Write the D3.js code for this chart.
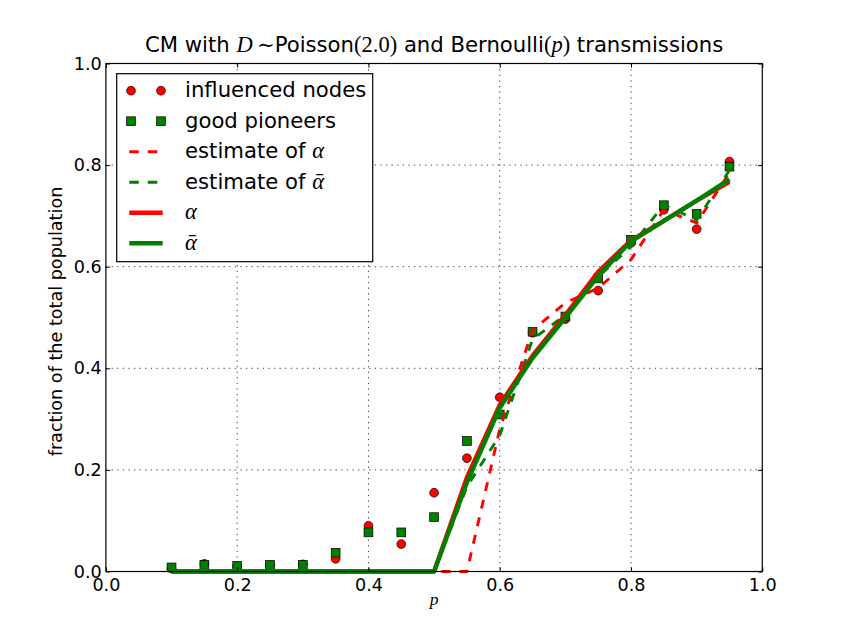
<!DOCTYPE html>
<html>
<head>
<meta charset="utf-8">
<script src="https://cdn.jsdelivr.net/npm/d3@7"></script>
<style>
  html, body { margin: 0; padding: 0; background: #fff; }
  svg { display: block; }
  .tick text { font-family: "DejaVu Sans", sans-serif; }
</style>
</head>
<body>
<svg id="chart" width="847" height="635"></svg>
<script>
// transmission probability p (x positions of every series)
const pValues = [0.1, 0.15, 0.2, 0.25, 0.3, 0.35, 0.4, 0.45, 0.5, 0.55,
                 0.6, 0.65, 0.7, 0.75, 0.8, 0.85, 0.9, 0.95];

// simulated fractions (markers)
const influencedNodes = [0.006, 0.015, 0.01, 0.012, 0.014, 0.025, 0.09, 0.054, 0.155, 0.223,
                         0.343, 0.47, 0.497, 0.553, 0.647, 0.712, 0.674, 0.807];
const goodPioneers    = [0.008, 0.013, 0.011, 0.013, 0.013, 0.037, 0.077, 0.077, 0.107, 0.257,
                         0.309, 0.472, 0.502, 0.577, 0.653, 0.721, 0.704, 0.797];

// estimates (dashed)
const estimateAlpha    = [0, 0, 0, 0, 0, 0, 0, 0, 0, 0,
                          0.28, 0.475, 0.529, 0.558, 0.614, 0.712, 0.686, 0.785];
const estimateAlphaBar = [0, 0, 0, 0, 0, 0, 0, 0, 0, 0.167,
                          0.268, 0.457, 0.505, 0.58, 0.64, 0.722, 0.692, 0.79];

// theoretical values (solid)
const alpha    = [0, 0, 0, 0, 0, 0, 0, 0, 0, 0.185,
                  0.328, 0.425, 0.505, 0.59, 0.652, 0.69, 0.73, 0.767];
const alphaBar = [0, 0, 0, 0, 0, 0, 0, 0, 0, 0.175,
                  0.322, 0.42, 0.5, 0.582, 0.65, 0.69, 0.73, 0.772];

const xTicks = [0.0, 0.2, 0.4, 0.6, 0.8, 1.0];
const yTicks = [0.0, 0.2, 0.4, 0.6, 0.8, 1.0];

const RED = "#ff0000", GREEN = "#008000";
const SANS = "'DejaVu Sans', sans-serif";
const SERIF = "'Liberation Serif', 'DejaVu Serif', serif";

const svg = d3.select("#chart");

// axes box (matplotlib default subplot params on a 847x635 canvas)
const axLeft = 105.9, axRight = 762.3, axTop = 63.5, axBottom = 571.5;

const x = d3.scaleLinear().domain([0, 1]).range([axLeft, axRight]);
const y = d3.scaleLinear().domain([0, 1]).range([axBottom, axTop]);

svg.append("rect").attr("width", 847).attr("height", 635).attr("fill", "#fff");

// dotted grid
const grid = svg.append("g").attr("class", "grid")
  .attr("stroke", "#000").attr("stroke-width", 0.7)
  .attr("stroke-dasharray", "1.4,4.2");
grid.selectAll("line.vx")
  .data(xTicks.slice(1, -1))
  .join("line")
  .attr("x1", d => x(d)).attr("x2", d => x(d))
  .attr("y1", axTop).attr("y2", axBottom);
grid.selectAll("line.hy")
  .data(yTicks.slice(1, -1))
  .join("line")
  .attr("x1", axLeft).attr("x2", axRight)
  .attr("y1", d => y(d)).attr("y2", d => y(d));

// series
const line = d3.line().x((d, i) => x(pValues[i])).y(d => y(d));
const plot = svg.append("g").attr("class", "plot");

plot.selectAll("circle.infl")
  .data(influencedNodes)
  .join("circle")
  .attr("cx", (d, i) => x(pValues[i]))
  .attr("cy", d => y(d))
  .attr("r", 4.4)
  .attr("fill", RED).attr("stroke", "#000").attr("stroke-width", 0.7);

const sq = 8.8;
plot.selectAll("rect.pion")
  .data(goodPioneers)
  .join("rect")
  .attr("x", (d, i) => x(pValues[i]) - sq / 2)
  .attr("y", d => y(d) - sq / 2)
  .attr("width", sq).attr("height", sq)
  .attr("fill", GREEN).attr("stroke", "#000").attr("stroke-width", 0.7);

const series = [
  { data: estimateAlpha,    color: RED,   width: 2.9, dash: "9,9" },
  { data: estimateAlphaBar, color: GREEN, width: 2.9, dash: "9,9" },
  { data: alpha,            color: RED,   width: 4.4, dash: null },
  { data: alphaBar,         color: GREEN, width: 4.4, dash: null }
];
series.forEach(s => {
  plot.append("path")
    .datum(s.data)
    .attr("d", line)
    .attr("fill", "none")
    .attr("stroke", s.color)
    .attr("stroke-width", s.width)
    .attr("stroke-dasharray", s.dash)
    .attr("stroke-linejoin", "round");
});

// axes: ticks point inward on all four sides
const fmt = d3.format(".1f");
function styleAxis(g) {
  g.select(".domain").remove();
  g.selectAll(".tick line").attr("stroke", "#000").attr("stroke-width", 1);
  g.selectAll(".tick text").attr("font-size", 17.6).attr("fill", "#000");
}
svg.append("g").attr("transform", `translate(0,${axBottom})`)
  .call(d3.axisBottom(x).tickValues(xTicks).tickFormat(fmt).tickSize(-4.2).tickPadding(7.5))
  .call(styleAxis);
svg.append("g").attr("transform", `translate(${axLeft},0)`)
  .call(d3.axisLeft(y).tickValues(yTicks).tickFormat(fmt).tickSize(-4.2).tickPadding(4.2))
  .call(styleAxis);
svg.append("g").attr("transform", `translate(0,${axTop})`)
  .call(d3.axisTop(x).tickValues(xTicks).tickFormat("").tickSize(-4.2))
  .call(styleAxis);
svg.append("g").attr("transform", `translate(${axRight},0)`)
  .call(d3.axisRight(y).tickValues(yTicks).tickFormat("").tickSize(-4.2))
  .call(styleAxis);

svg.append("rect")
  .attr("x", axLeft).attr("y", axTop)
  .attr("width", axRight - axLeft).attr("height", axBottom - axTop)
  .attr("fill", "none").attr("stroke", "#000").attr("stroke-width", 1.2);

// title with math parts
const title = svg.append("text")
  .attr("x", (axLeft + axRight) / 2).attr("y", 52)
  .attr("text-anchor", "middle")
  .attr("font-family", SANS).attr("font-size", 21.2).attr("fill", "#000");
title.append("tspan").text("CM with ");
title.append("tspan").attr("font-family", SERIF).attr("font-style", "italic").attr("font-size", 22.5).text("D");
title.append("tspan").attr("font-family", SERIF).text("\u2009\u223C");
title.append("tspan").text("Poisson");
title.append("tspan").attr("font-family", SERIF).attr("font-size", 22.5).text("(2.0)");
title.append("tspan").text(" and Bernoulli");
title.append("tspan").attr("font-family", SERIF).attr("font-size", 22.5).text("(");
title.append("tspan").attr("font-family", SERIF).attr("font-style", "italic").attr("font-size", 22.5).text("p");
title.append("tspan").attr("font-family", SERIF).attr("font-size", 22.5).text(")");
title.append("tspan").text(" transmissions");

// axis labels
svg.append("text")
  .attr("x", (axLeft + axRight) / 2).attr("y", 605)
  .attr("text-anchor", "middle")
  .attr("font-family", SERIF).attr("font-style", "italic")
  .attr("font-size", 17.6).text("p");

svg.append("text")
  .attr("transform", `translate(62,${(axTop + axBottom) / 2 + 4}) rotate(-90)`)
  .attr("text-anchor", "middle")
  .attr("font-family", SANS).attr("font-size", 17.6)
  .text("fraction of the total population");

// legend
const legend = svg.append("g").attr("class", "legend");
legend.append("rect")
  .attr("x", 116.7).attr("y", 73.7)
  .attr("width", 256).attr("height", 188)
  .attr("fill", "#fff").attr("stroke", "#000").attr("stroke-width", 1.2);

const legendRows = [
  { type: "circle", color: RED,   label: ["influenced nodes"] },
  { type: "square", color: GREEN, label: ["good pioneers"] },
  { type: "dash",   color: RED,   label: ["estimate of ", "\u03B1"] },
  { type: "dash",   color: GREEN, label: ["estimate of ", "\u1FB1"] },
  { type: "solid",  color: RED,   label: ["", "\u03B1"] },
  { type: "solid",  color: GREEN, label: ["", "\u1FB1"] }
];
const rowY = d3.scaleLinear().domain([0, 5]).range([90.7, 243.3]);
const mx = [131, 161];

legendRows.forEach((r, i) => {
  const cy = rowY(i);
  const g = legend.append("g");
  if (r.type === "circle") {
    mx.forEach(cx => g.append("circle").attr("cx", cx).attr("cy", cy).attr("r", 4.4)
      .attr("fill", r.color).attr("stroke", "#000").attr("stroke-width", 0.7));
  } else if (r.type === "square") {
    mx.forEach(cx => g.append("rect").attr("x", cx - sq / 2).attr("y", cy - sq / 2)
      .attr("width", sq).attr("height", sq)
      .attr("fill", r.color).attr("stroke", "#000").attr("stroke-width", 0.7));
  } else {
    g.append("line").attr("x1", 129.3).attr("x2", 162.7).attr("y1", cy).attr("y2", cy)
      .attr("stroke", r.color)
      .attr("stroke-width", r.type === "dash" ? 2.9 : 4.4)
      .attr("stroke-dasharray", r.type === "dash" ? "9.5,9" : null);
  }
  const t = g.append("text").attr("x", 185).attr("y", cy + 6.5)
    .attr("font-family", SANS).attr("font-size", 21.2).attr("fill", "#000");
  t.append("tspan").text(r.label[0]);
  if (r.label[1]) {
    t.append("tspan").attr("font-family", SERIF).attr("font-style", "italic").attr("font-size", 22.5).text(r.label[1]);
  }
});
</script>
</body>
</html>
